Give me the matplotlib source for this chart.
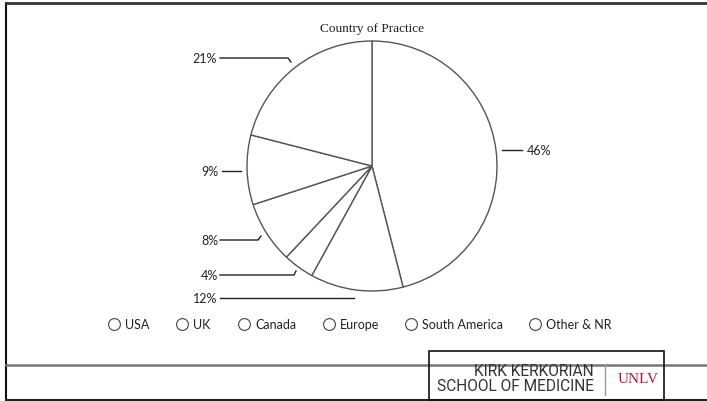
import matplotlib
matplotlib.use('Agg')
import matplotlib.pyplot as plt
from matplotlib.patches import Rectangle

# Country of practice breakdown (percent)
countries = ['USA', 'UK', 'Canada', 'Europe', 'South America', 'Other & NR']
shares = [46, 12, 4, 8, 9, 21]

W, H = 707, 402


def py(y):
    # convert a top-down pixel row to axes y
    return H - y


fig = plt.figure(figsize=(W / 100, H / 100), dpi=100)
ax = fig.add_axes([0, 0, 1, 1])

label_font = ['Lato', 'DejaVu Sans']

# Pie
ax.pie(shares, center=(372, py(167)), radius=125, startangle=90,
       counterclock=False, colors=['white'] * len(shares),
       wedgeprops=dict(edgecolor='#555555', linewidth=1.0))
ax.set_aspect('auto')
ax.set_xlim(0, W)
ax.set_ylim(0, H)
ax.axis('off')

ax.text(372, py(29), 'Country of Practice', ha='center', va='center',
        family='Liberation Serif', fontsize=9.5, color='#222222')

# Leader lines and percentage labels: (text x, text y, ha, line points)
label_layout = [
    (527, 151, 'left', [(502, 151), (522, 151)]),
    (217, 299, 'right', [(220, 299), (354, 299)]),
    (218, 276, 'right', [(220, 276), (294, 276), (296, 272)]),
    (218, 241, 'right', [(220, 241), (258, 241), (261, 237)]),
    (218, 172, 'right', [(222, 172), (241, 172)]),
    (217, 59, 'right', [(220, 59), (288, 59), (291, 63)]),
]
for val, (tx, ty, ha, pts) in zip(shares, label_layout):
    xs = [p[0] for p in pts]
    ys = [py(p[1]) for p in pts]
    ax.plot(xs, ys, color='#222222', lw=1.0)
    ax.text(tx, py(ty), f'{val}%', ha=ha, va='center',
            family=label_font, fontsize=9, color='#222222')

# Legend row
legend_x = [114, 182, 244, 329, 411, 535]
for name, lx in zip(countries, legend_x):
    ax.plot(lx, py(325), marker='o', ms=8.5, mfc='white', mec='#444444',
            mew=0.8)
    ax.text(lx + 11, py(325), name, ha='left', va='center',
            family=label_font, fontsize=9, color='#222222')

# Frame and footer
ax.plot([6, 6], [py(4), py(401)], color='#111111', lw=1.5)
ax.plot([6, W + 5], [py(4), py(4)], color='#333333', lw=2.0)
ax.plot([6, W + 5], [py(401), py(401)], color='#222222', lw=1.5)
ax.plot([6, W + 5], [py(366), py(366)], color='#777777', lw=1.8)
ax.add_patch(Rectangle((429, py(401)), 235, 49, fill=False,
                       edgecolor='#111111', lw=1.2, zorder=5))

logo_font = ['Roboto', 'DejaVu Sans']
ax.text(594, py(372), 'KIRK KERKORIAN', ha='right', va='center',
        family=logo_font, fontsize=11.2, color='#333333')
ax.text(594, py(387), 'SCHOOL OF MEDICINE', ha='right', va='center',
        family=logo_font, fontsize=11.2, color='#333333')
ax.plot([605, 605], [py(366), py(396)], color='#999999', lw=1.0)
ax.text(638, py(380), 'UNLV', ha='center', va='center',
        family='Liberation Serif', fontsize=11, color='#b5163a')

fig.savefig('out.png', dpi=100)
